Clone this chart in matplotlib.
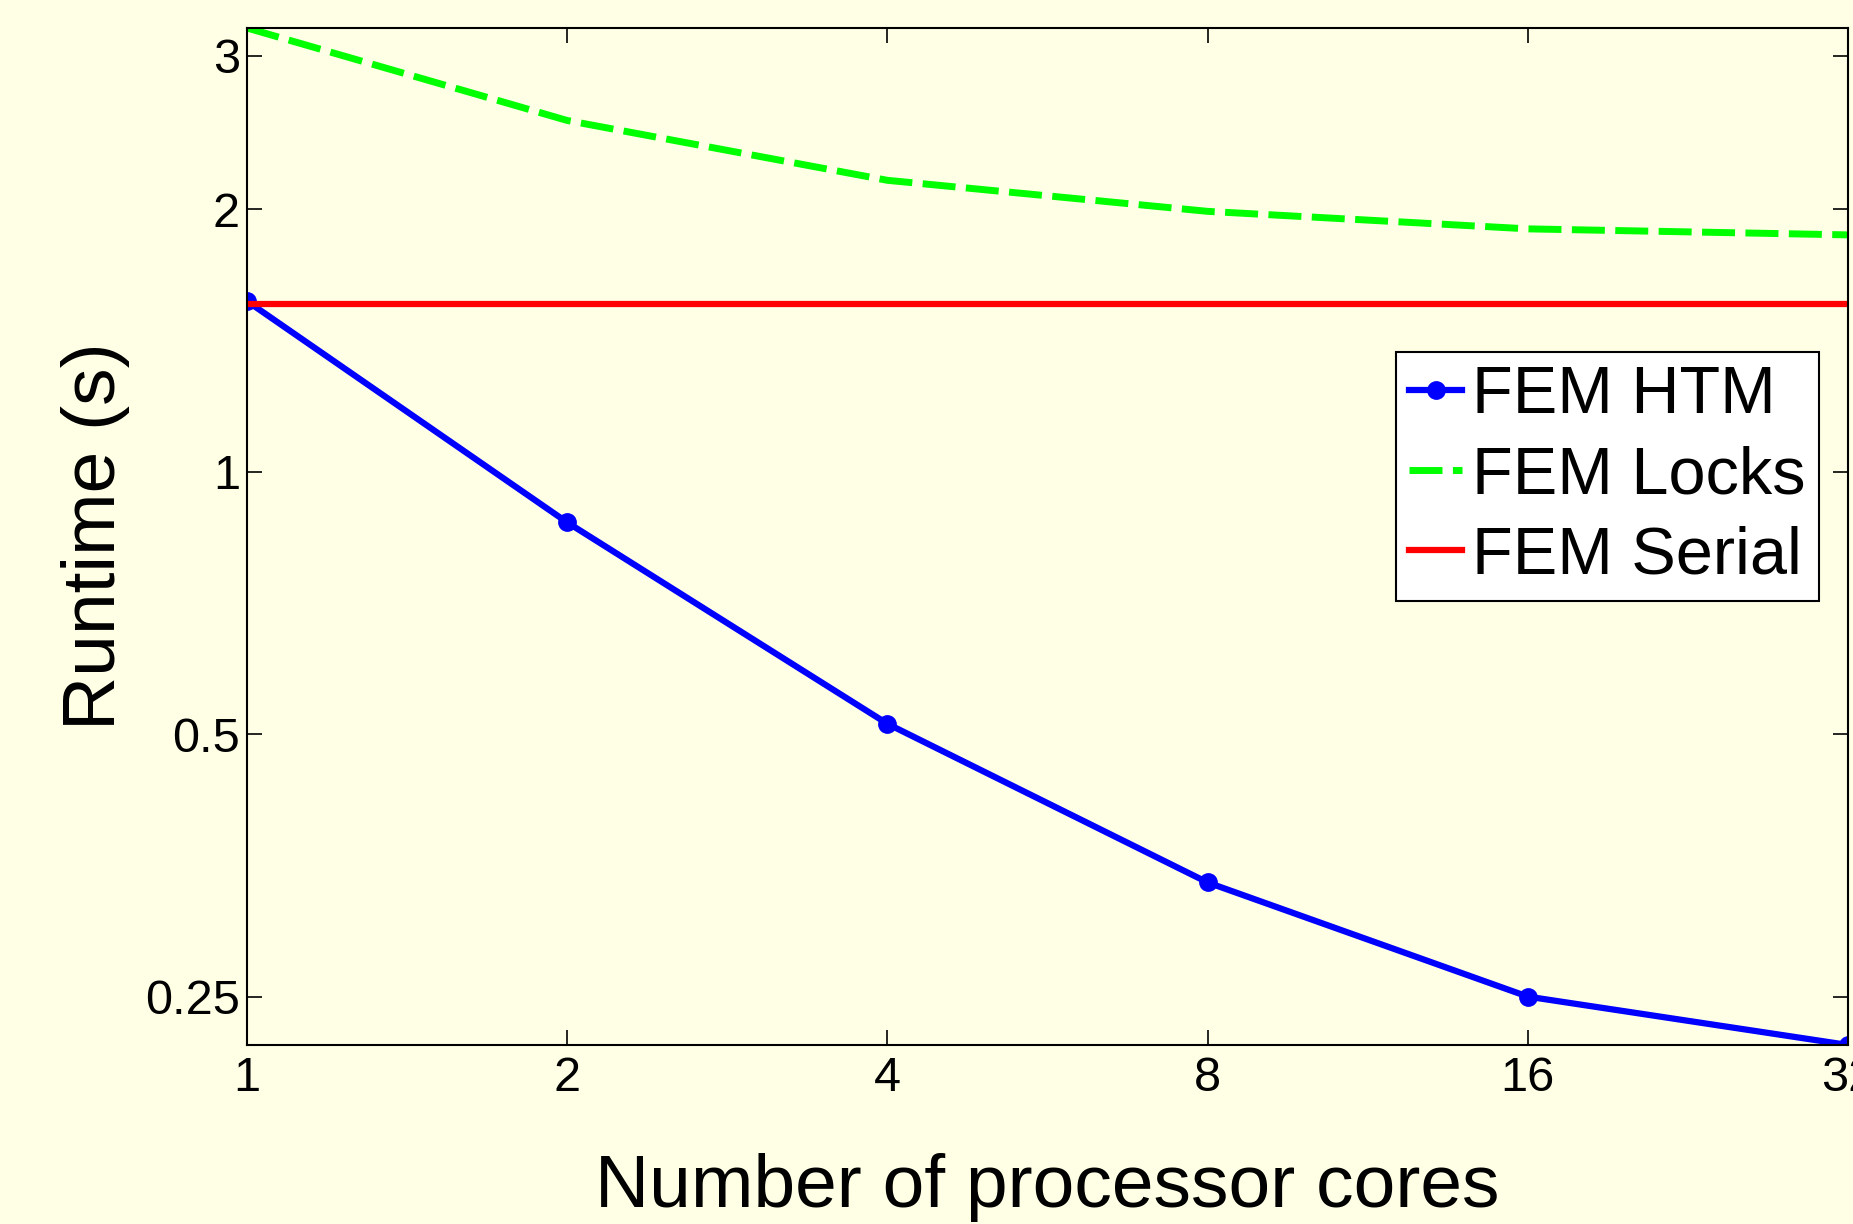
import numpy as np
import matplotlib
matplotlib.use("Agg")
import matplotlib.pyplot as plt
from matplotlib.ticker import FixedLocator, FixedFormatter, NullLocator

# --- data ---
cores = [1, 2, 4, 8, 16, 32]
htm_runtime = [1.57, 0.875, 0.514, 0.338, 0.25, 0.22]
locks_runtime = [3.23, 2.53, 2.16, 1.99, 1.90, 1.87]
serial_runtime = [1.56, 1.56, 1.56, 1.56, 1.56, 1.56]

ytick_vals = [0.25, 0.5, 1, 2, 3]
ytick_labels = ["0.25", "0.5", "1", "2", "3"]
xtick_labels = ["1", "2", "4", "8", "16", "32"]

bg = "#FFFFE6"
plt.rcParams['font.family'] = ['Liberation Sans', 'DejaVu Sans']

fig = plt.figure(figsize=(18.53, 12.24), dpi=100, facecolor=bg)
ax = fig.add_axes([247 / 1853, 1 - 1045 / 1224, (1848 - 247) / 1853, (1045 - 28) / 1224])
ax.set_facecolor(bg)

ax.plot(cores, htm_runtime, '-o', color='#0000FF', lw=4.5, markersize=12.5, label='FEM HTM')
ax.plot(cores, locks_runtime, '--', color='#00FF00', lw=5, dashes=(4.75, 1.5), label='FEM Locks')
ax.plot(cores, serial_runtime, '-', color='#FF0000', lw=4.5, label='FEM Serial')

ax.set_xscale('log', base=2)
ax.set_yscale('log')
ax.set_xlim(1, 32)
ax.set_ylim(min(htm_runtime), max(locks_runtime))

ax.xaxis.set_major_locator(FixedLocator(cores))
ax.xaxis.set_major_formatter(FixedFormatter(xtick_labels))
ax.xaxis.set_minor_locator(NullLocator())
ax.yaxis.set_major_locator(FixedLocator(ytick_vals))
ax.yaxis.set_major_formatter(FixedFormatter(ytick_labels))
ax.yaxis.set_minor_locator(NullLocator())

ax.tick_params(which='major', direction='in', length=11, width=1.2, labelsize=35,
               top=True, right=True)
ax.tick_params(axis='y', pad=5)
ax.tick_params(axis='x', pad=8)
for s in ax.spines.values():
    s.set_linewidth(1.5)

ax.set_xlabel("Number of processor cores", fontsize=54, labelpad=37)
ax.set_ylabel("Runtime (s)", fontsize=54, labelpad=11)

leg = ax.legend(loc='upper right', bbox_to_anchor=(1819 / 1853, 1 - 352 / 1224),
                bbox_transform=fig.transFigure, fontsize=48, handlelength=0.8,
                handletextpad=0.15, borderpad=0.2, labelspacing=0.27,
                fancybox=False, framealpha=1, edgecolor='black', borderaxespad=0)
leg.get_frame().set_linewidth(1.5)

fig.savefig("out.png", dpi=100, facecolor=bg)
